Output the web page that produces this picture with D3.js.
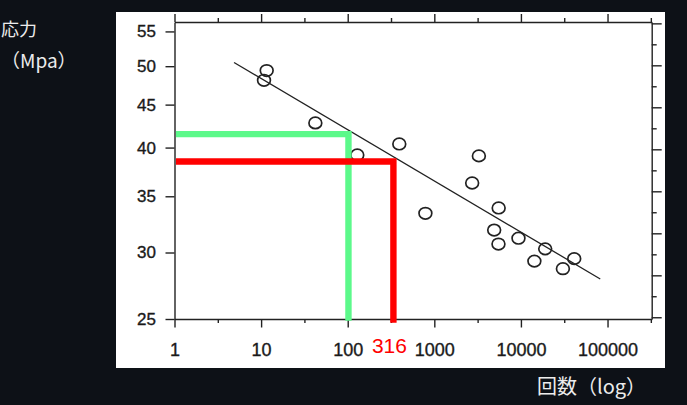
<!DOCTYPE html>
<html>
<head>
<meta charset="utf-8">
<script src="https://cdn.jsdelivr.net/npm/d3@7"></script>
<style>
  html, body { margin: 0; padding: 0; background: #0d1117; }
  svg { display: block; }
</style>
</head>
<body>
<div id="chart"></div>
<script>
// data
const cycles = [11.6, 10.8, 42.3, 129, 394, 3270, 2735, 789, 5534, 4910, 5505, 9370, 19060, 14300, 41240, 30530];
const stress = [49.4, 48.1, 42.8, 39.2, 40.4, 39.1, 36.3, 33.4, 33.9, 31.9, 30.7, 31.2, 30.3, 29.3, 29.5, 28.7];

const fitCycles = [4.87, 82400];
const fitStress = [50.5, 27.9];

const xMajor = [1, 10, 100, 1000, 10000, 100000];
const xMinor = [3.162, 31.62, 316.2, 3162, 31623, 316228];
const yLabels = [25, 30, 35, 40, 45, 50, 55];
const yRightMajor = [25.12, 28.18, 31.62, 35.48, 39.81, 44.67, 50.12, 56.23];
const yRightMinor = [26.61, 29.85, 33.50, 37.58, 42.17, 47.32, 53.09];

// guide lines (green = 100 cycles, red = 316 cycles)
const guideCycles = [102, 337];
const guideStress = [41.5, 38.5];
const guideStart = [1.04, 1.04];
const guideBottom = [24.88, 24.75];
const guideColors = ["#5cf98a", "#ff0000"];
const guideLabel = "316";

const width = 687, height = 405;
const plot = {left: 174.5, right: 651.7, top: 22, bottom: 319};
const ink = "#222";

const svg = d3.select("#chart").append("svg")
  .attr("width", width)
  .attr("height", height);

svg.append("rect")
  .attr("x", 116).attr("y", 12)
  .attr("width", 549).attr("height", 356)
  .attr("fill", "#ffffff");

const x = d3.scaleLog()
  .domain([1, Math.pow(10, 5.51)])
  .range([plot.left, plot.right]);

const y = d3.scaleLog()
  .domain([25, 56.44])
  .range([plot.bottom, plot.top]);

function styleAxis(g, fontSize) {
  g.attr("font-family", "'Liberation Sans', Arial, sans-serif")
   .attr("font-size", fontSize);
  g.selectAll("line, path").attr("stroke", ink).attr("stroke-width", 1.4);
  g.selectAll("text")
    .attr("fill", "#1a1a1a")
    .attr("stroke", "#1a1a1a")
    .attr("stroke-width", 0.35);
}

const noLabel = () => "";

// bottom
svg.append("g")
  .attr("transform", `translate(0,${plot.bottom})`)
  .call(d3.axisBottom(x).tickValues(xMajor).tickSize(8.5).tickSizeOuter(0).tickFormat(d3.format("d")))
  .call(g => styleAxis(g, 18))
  .call(g => g.selectAll("text").attr("y", 36.7).attr("dy", null));
svg.append("g")
  .attr("transform", `translate(0,${plot.bottom})`)
  .call(d3.axisBottom(x).tickValues(xMinor).tickSize(4).tickFormat(noLabel))
  .call(g => g.select(".domain").remove())
  .call(g => styleAxis(g, 10));

// top
svg.append("g")
  .attr("transform", `translate(0,${plot.top})`)
  .call(d3.axisTop(x).tickValues(xMajor).tickSize(8).tickSizeOuter(0).tickFormat(noLabel))
  .call(g => styleAxis(g, 10));
svg.append("g")
  .attr("transform", `translate(0,${plot.top})`)
  .call(d3.axisTop(x).tickValues(xMinor).tickSize(4).tickFormat(noLabel))
  .call(g => g.select(".domain").remove())
  .call(g => styleAxis(g, 10));

// left
svg.append("g")
  .attr("transform", `translate(${plot.left},0)`)
  .call(d3.axisLeft(y).tickValues(yLabels).tickSize(9).tickSizeOuter(0).tickPadding(9.5).tickFormat(d3.format("d")))
  .call(g => styleAxis(g, 17));

// right
svg.append("g")
  .attr("transform", `translate(${plot.right},0)`)
  .call(d3.axisRight(y).tickValues(yRightMajor).tickSize(10).tickSizeOuter(0).tickFormat(noLabel))
  .call(g => styleAxis(g, 10));
svg.append("g")
  .attr("transform", `translate(${plot.right},0)`)
  .call(d3.axisRight(y).tickValues(yRightMinor).tickSize(5).tickFormat(noLabel))
  .call(g => g.select(".domain").remove())
  .call(g => styleAxis(g, 10));

// fit line
svg.append("line")
  .attr("x1", x(fitCycles[0])).attr("y1", y(fitStress[0]))
  .attr("x2", x(fitCycles[1])).attr("y2", y(fitStress[1]))
  .attr("stroke", ink)
  .attr("stroke-width", 1.3);

// measured points
svg.append("g")
  .selectAll("ellipse")
  .data(cycles.map((c, i) => ({c: c, s: stress[i]})))
  .join("ellipse")
    .attr("cx", d => x(d.c))
    .attr("cy", d => y(d.s))
    .attr("rx", 6.4)
    .attr("ry", 5.8)
    .attr("fill", "none")
    .attr("stroke", ink)
    .attr("stroke-width", 1.7);

// guide lines
const guide = d3.line().x(d => x(d[0])).y(d => y(d[1]));
guideCycles.forEach(function (c, i) {
  svg.append("path")
    .attr("d", guide([[guideStart[i], guideStress[i]], [c, guideStress[i]], [c, guideBottom[i]]]))
    .attr("fill", "none")
    .attr("stroke", guideColors[i])
    .attr("stroke-width", 6.4)
    .attr("stroke-linejoin", "miter");
});

svg.append("text")
  .attr("x", x(guideCycles[1]) - 4)
  .attr("y", 353.3)
  .attr("text-anchor", "middle")
  .attr("font-family", "'Liberation Sans', Arial, sans-serif")
  .attr("font-size", 21)
  .attr("fill", "#ff0000")
  .text(guideLabel);

// axis titles
const cjk = "'Noto Sans CJK JP', 'Noto Sans CJK SC', sans-serif";
svg.append("text")
  .attr("x", 1).attr("y", 36)
  .attr("font-family", cjk).attr("font-size", 18)
  .attr("fill", "#ececec")
  .text("応力");
svg.append("text")
  .attr("x", 1).attr("y", 68)
  .attr("font-family", cjk).attr("font-size", 19)
  .attr("fill", "#ececec")
  .text("（Mpa）");
svg.append("text")
  .attr("x", 537).attr("y", 394)
  .attr("font-family", cjk).attr("font-size", 20)
  .attr("fill", "#ececec")
  .text("回数（log）");
</script>
</body>
</html>
